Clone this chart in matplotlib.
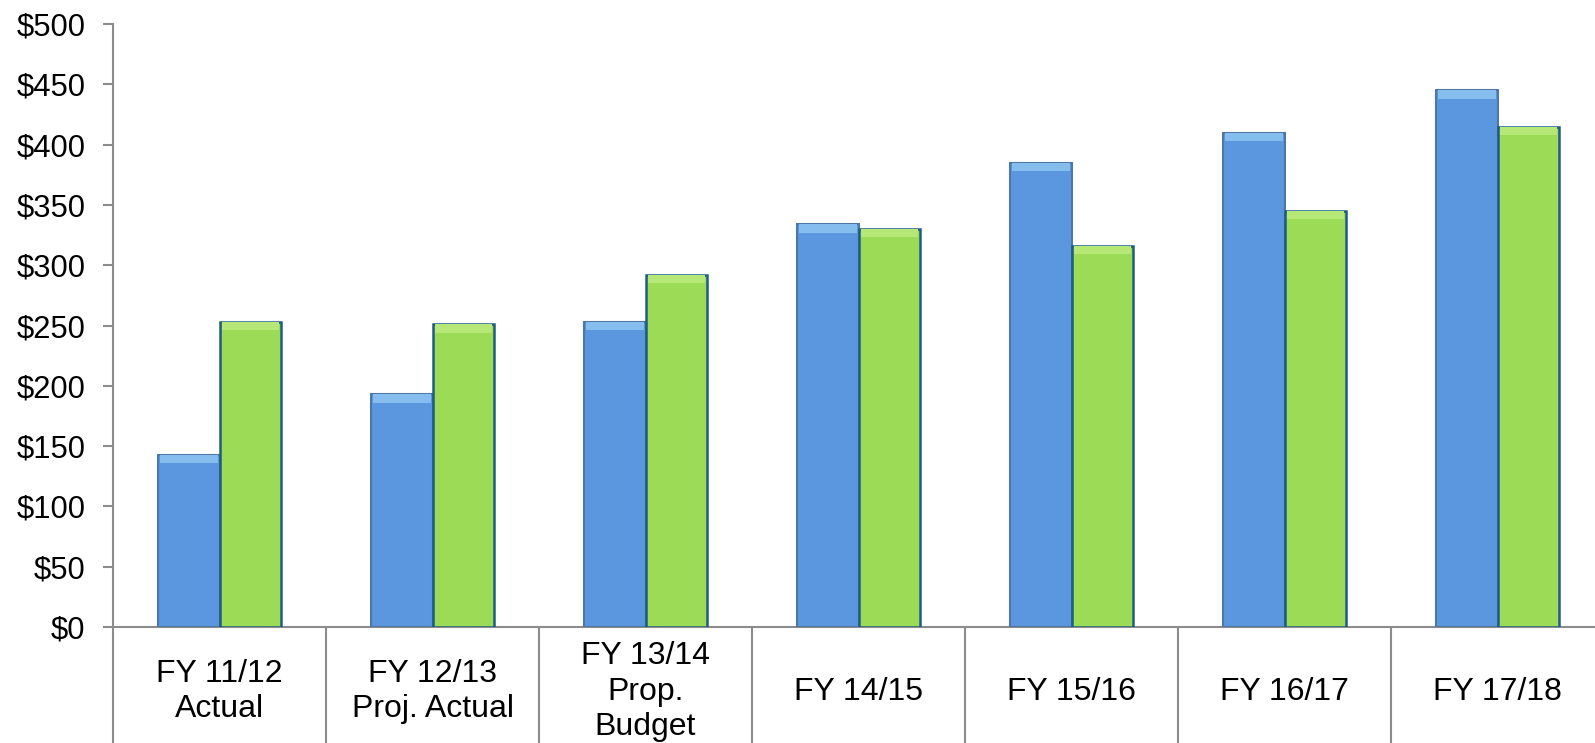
import matplotlib
matplotlib.use("Agg")
import matplotlib.pyplot as plt
import numpy as np

categories = ["FY 11/12\nActual", "FY 12/13\nProj. Actual", "FY 13/14\nProp.\nBudget",
              "FY 14/15", "FY 15/16", "FY 16/17", "FY 17/18"]
series_blue = [143, 193, 253, 334, 385, 410, 445]
series_green = [253, 251, 292, 330, 316, 345, 415]
yticks = [0, 50, 100, 150, 200, 250, 300, 350, 400, 450, 500]
ytick_labels = ["$" + str(v) for v in yticks]

plt.rcParams['font.family'] = ['Liberation Sans', 'DejaVu Sans']

fig = plt.figure(figsize=(15.95, 7.43), dpi=100)
ax = fig.add_axes([113/1595, 1 - 627/743, 1491/1595, (627 - 24)/743])

x = np.arange(len(categories))
w = 0.29
cap = 7  # bevel depth in data units

blue_body, blue_cap, blue_edge = "#5B97DE", "#85BDEE", "#4F77A3"
green_body, green_cap, green_edge = "#9CDB55", "#B6E877", "#1F5C84"

ax.bar(x - w/2, series_blue, width=w, color=blue_body, edgecolor=blue_edge, linewidth=1.5, zorder=3)
ax.bar(x - w/2, [cap]*len(x), bottom=np.array(series_blue) - cap, width=w*0.94,
       color=blue_cap, edgecolor='none', zorder=4)
ax.bar(x + w/2, series_green, width=w, color=green_body, edgecolor=green_edge, linewidth=1.8, zorder=3)
ax.bar(x + w/2, [cap]*len(x), bottom=np.array(series_green) - cap, width=w*0.92,
       color=green_cap, edgecolor='none', zorder=4)

ax.set_xlim(-0.5, len(categories) - 0.5)
ax.set_ylim(0, 500)

gray = "#8C8C8C"
for s in ['top', 'right']:
    ax.spines[s].set_visible(False)
ax.spines['left'].set_color(gray)
ax.spines['bottom'].set_color(gray)
ax.spines['left'].set_linewidth(1.5)
ax.spines['bottom'].set_linewidth(1.5)

ax.set_yticks(yticks)
ax.set_yticklabels(ytick_labels, fontsize=22.3)
ax.tick_params(axis='y', direction='out', length=7.5, width=1.5, color=gray, pad=12.5)

# category separators as long x ticks at boundaries
ax.set_xticks(np.arange(len(categories) + 1) - 0.5)
ax.set_xticklabels([])
ax.tick_params(axis='x', direction='out', length=85, width=1.5, color=gray)

for xi, lab in zip(x, categories):
    ax.text(xi, -0.107, lab, transform=ax.get_xaxis_transform(), ha='center', va='center',
            fontsize=23, linespacing=1.22, color='black')

fig.savefig("out.png", dpi=100)
